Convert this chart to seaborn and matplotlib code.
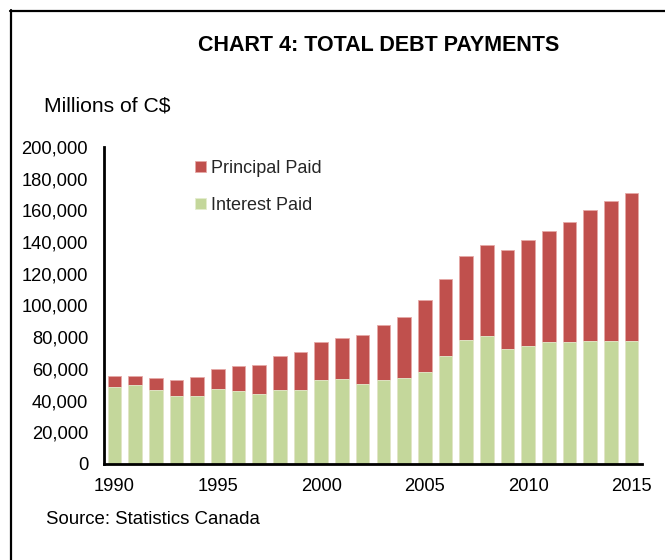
import matplotlib
matplotlib.use("Agg")
import matplotlib.pyplot as plt
from matplotlib.lines import Line2D
import seaborn as sns
import pandas as pd

# Annual debt payments, millions of C$
years = list(range(1990, 2016))
interest_paid = [48800, 49850, 46900, 42700, 42900, 47300, 46250, 44000, 46700, 46700,
                 53000, 53650, 50300, 52800, 54250, 57850, 67950, 78050, 80950, 72350,
                 74450, 76800, 77000, 77400, 77800, 77400]
principal_paid = [6550, 5500, 7200, 10100, 12000, 12850, 15550, 18650, 21250, 23750,
                  23950, 26050, 31100, 34700, 38500, 45450, 48550, 53200, 57250, 62500,
                  67100, 70200, 75700, 82900, 87950, 93400]
tick_years = [1990, 1995, 2000, 2005, 2010, 2015]
y_ticks = list(range(0, 200001, 20000))

RED = "#C0504D"
GREEN = "#C4D79B"

sns.set_theme(style="white")
plt.rcParams["font.family"] = ["Liberation Sans", "DejaVu Sans"]

df = pd.DataFrame({
    "year": [str(y) for y in years],
    "interest": interest_paid,
    "principal": principal_paid,
})
df["total"] = df["interest"] + df["principal"]

fig = plt.figure(figsize=(6.65, 5.6), dpi=100)
ax = fig.add_axes([104 / 665, 1 - 464 / 560, (642 - 104) / 665, (464 - 147) / 560])

# Stacked bars: full height in red, interest portion drawn over it in green
sns.barplot(data=df, x="year", y="total", color=RED, saturation=1, width=0.66,
            edgecolor="#E6A9A7", linewidth=0.6, ax=ax, label="Principal Paid")
sns.barplot(data=df, x="year", y="interest", color=GREEN, saturation=1, width=0.66,
            edgecolor="#E4EDCF", linewidth=0.6, ax=ax, label="Interest Paid")

ax.set_xlim(-0.5, len(years) - 0.5)
ax.set_ylim(0, 200000)
ax.set_yticks(y_ticks)
ax.set_yticklabels([f"{v:,}" for v in y_ticks])
ax.set_xticks([years.index(y) for y in tick_years])
ax.set_xticklabels([str(y) for y in tick_years])
ax.set_xlabel("")
ax.set_ylabel("")
ax.tick_params(axis="both", length=0, labelsize=13.2, colors="black")
ax.tick_params(axis="y", pad=11.5)
ax.tick_params(axis="x", pad=10)

for side in ["top", "right"]:
    ax.spines[side].set_visible(False)
for side in ["left", "bottom"]:
    ax.spines[side].set_visible(True)
    ax.spines[side].set_color("black")
    ax.spines[side].set_linewidth(2)

handles, labels = ax.get_legend_handles_labels()
ax.legend(handles, labels, loc="upper left", bbox_to_anchor=(0.17, 0.96),
          frameon=False, fontsize=13, handlelength=0.6, handleheight=0.6,
          handletextpad=0.25, labelspacing=1.12, borderpad=0, borderaxespad=0)

fig.text(378.5 / 665, 1 - 45.5 / 560, "CHART 4: TOTAL DEBT PAYMENTS", ha="center", va="center",
         fontsize=15.5, fontweight="bold", color="black")
fig.text(44 / 665, 1 - 106 / 560, "Millions of C$", ha="left", va="center",
         fontsize=15.2, color="black")
fig.text(46 / 665, 1 - 520 / 560, "Source: Statistics Canada", ha="left", va="center",
         fontsize=13.4, color="black")

# Outer frame (top and left edges)
fig.add_artist(Line2D([10 / 665, 1.0], [1 - 11 / 560, 1 - 11 / 560],
                      transform=fig.transFigure, color="black", linewidth=1.6))
fig.add_artist(Line2D([11 / 665, 11 / 665], [1 - 10 / 560, 0.0],
                      transform=fig.transFigure, color="black", linewidth=1.6))

fig.savefig("out.png", dpi=100, facecolor="white")
